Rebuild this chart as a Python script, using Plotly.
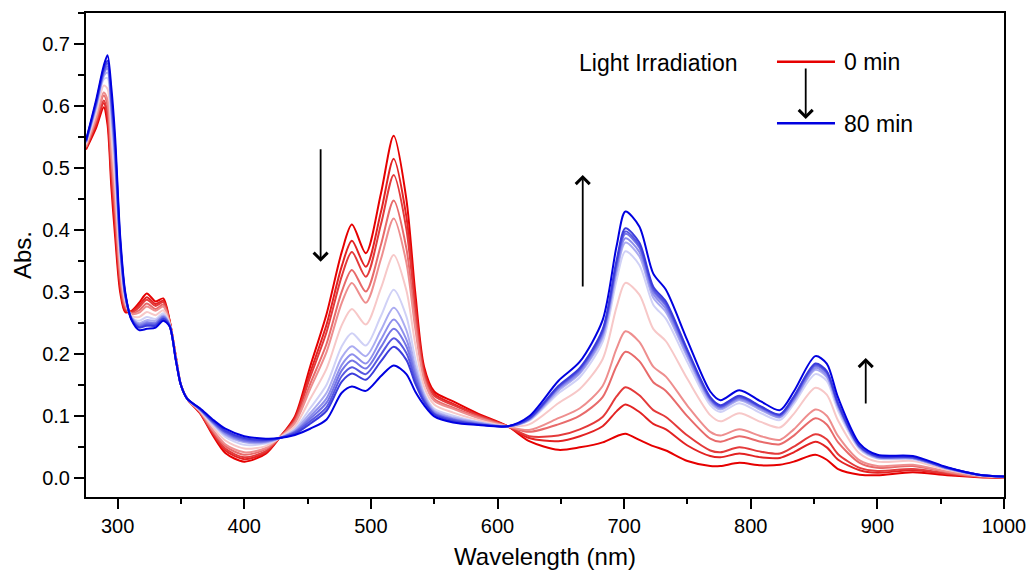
import plotly.graph_objects as go

# Wavelength grid (nm)
wavelength = [275, 283, 289, 292, 295, 298, 302, 306, 311, 317,
              323, 330, 336, 341, 346, 350, 355, 365, 375, 385,
              400, 417, 428, 440, 452, 465, 477, 485, 496, 508,
              518, 528, 535, 542, 550, 565, 585, 608, 625, 648,
              665, 683, 694, 701, 712, 723, 733, 750, 768, 776,
              791, 808, 823, 834, 851, 860, 869, 886, 900, 928,
              955, 980, 1000]

# Absorbance spectra, 0 min (red) -> 80 min (blue)
abs_00 = [.530, .565, .598, .570, .470, .390, .300, .268, .270, .283,
          .298, .285, .290, .255, .196, .150, .128, .105, .070, .041,
          .027, .040, .066, .100, .180, .265, .365, .409, .363, .460,
          .552, .450, .300, .180, .140, .124, .104, .084, .060, .046,
          .050, .058, .068, .072, .062, .052, .045, .028, .020, .020,
          .025, .021, .022, .027, .038, .030, .015, .006, .005, .010,
          .005, .002, .001]
abs_01 = [.532, .570, .605, .581, .486, .406, .309, .271, .269, .279,
          .292, .281, .286, .254, .195, .150, .128, .106, .073, .045,
          .031, .042, .066, .097, .170, .248, .342, .383, .341, .430,
          .515, .422, .284, .174, .136, .120, .102, .084, .065, .060,
          .068, .084, .108, .119, .107, .088, .079, .053, .036, .034,
          .040, .034, .033, .042, .059, .050, .030, .013, .009, .013,
          .007, .003, .001]
abs_02 = [.533, .573, .609, .589, .497, .417, .315, .273, .267, .276,
          .288, .278, .284, .253, .195, .150, .128, .106, .074, .048,
          .034, .044, .066, .095, .163, .236, .326, .365, .325, .410,
          .489, .402, .273, .169, .133, .118, .101, .084, .068, .069,
          .079, .099, .132, .147, .134, .110, .099, .069, .045, .042,
          .050, .043, .040, .051, .071, .063, .039, .017, .012, .015,
          .008, .003, .001]
abs_03 = [.534, .578, .617, .601, .515, .435, .325, .277, .266, .271,
          .282, .273, .280, .252, .194, .150, .128, .107, .077, .052,
          .038, .047, .066, .092, .152, .217, .301, .336, .301, .377,
          .448, .371, .255, .163, .128, .114, .099, .084, .075, .087,
          .101, .131, .181, .204, .189, .155, .141, .100, .064, .059,
          .068, .059, .055, .069, .097, .087, .058, .025, .017, .020,
          .010, .003, .002]
abs_04 = [.535, .581, .622, .610, .528, .448, .332, .280, .265, .267,
          .277, .270, .277, .251, .194, .150, .128, .108, .079, .055,
          .042, .049, .066, .089, .144, .204, .283, .315, .283, .354,
          .419, .348, .242, .158, .125, .112, .097, .084, .078, .097,
          .113, .149, .209, .237, .220, .180, .164, .117, .075, .069,
          .079, .068, .062, .079, .111, .101, .068, .029, .020, .022,
          .011, .004, .002]
abs_05 = [.538, .588, .633, .628, .553, .473, .347, .285, .262, .260,
          .268, .263, .271, .250, .193, .150, .128, .109, .083, .061,
          .048, .052, .066, .084, .128, .177, .247, .273, .248, .307,
          .360, .303, .217, .148, .119, .106, .094, .084, .087, .121,
          .144, .192, .276, .315, .296, .241, .221, .160, .102, .092,
          .105, .091, .082, .104, .146, .135, .093, .040, .027, .028,
          .014, .005, .002]
abs_06 = [.540, .595, .643, .645, .577, .497, .360, .289, .260, .254,
          .260, .257, .266, .248, .192, .150, .128, .110, .087, .067,
          .054, .056, .065, .080, .113, .151, .213, .234, .214, .262,
          .304, .261, .193, .138, .112, .101, .091, .084, .093, .137,
          .163, .220, .319, .366, .344, .280, .257, .187, .118, .107,
          .121, .105, .094, .120, .168, .157, .109, .047, .032, .031,
          .016, .005, .003]
abs_07 = [.541, .599, .648, .654, .590, .510, .368, .292, .259, .250,
          .255, .254, .263, .248, .192, .150, .128, .111, .089, .070,
          .058, .058, .065, .078, .105, .138, .195, .213, .197, .239,
          .275, .239, .180, .134, .109, .098, .090, .084, .094, .141,
          .169, .227, .331, .380, .358, .291, .268, .195, .123, .111,
          .126, .110, .098, .124, .175, .163, .114, .049, .033, .032,
          .016, .005, .003]
abs_08 = [.542, .601, .652, .660, .598, .518, .372, .294, .258, .248,
          .252, .251, .261, .247, .191, .150, .128, .111, .090, .072,
          .060, .059, .065, .076, .100, .129, .183, .200, .185, .224,
          .256, .224, .172, .130, .107, .096, .089, .084, .095, .144,
          .171, .231, .337, .387, .365, .297, .273, .199, .126, .113,
          .128, .112, .099, .126, .178, .166, .116, .050, .034, .033,
          .016, .006, .003]
abs_09 = [.543, .603, .654, .664, .604, .524, .376, .295, .257, .246,
          .250, .250, .260, .247, .191, .150, .128, .112, .091, .074,
          .061, .060, .065, .075, .096, .122, .174, .190, .177, .212,
          .241, .213, .166, .128, .105, .095, .088, .084, .096, .146,
          .174, .235, .343, .394, .372, .302, .278, .203, .128, .115,
          .130, .114, .101, .129, .181, .170, .119, .051, .035, .033,
          .017, .006, .003]
abs_10 = [.543, .605, .657, .669, .611, .531, .379, .296, .257, .244,
          .248, .248, .258, .246, .191, .150, .128, .112, .092, .075,
          .063, .061, .065, .074, .092, .115, .165, .179, .168, .200,
          .226, .202, .159, .125, .104, .094, .087, .084, .096, .147,
          .176, .237, .346, .398, .375, .305, .281, .205, .129, .116,
          .131, .115, .102, .130, .183, .171, .120, .052, .035, .034,
          .017, .006, .003]
abs_11 = [.544, .606, .660, .673, .617, .537, .383, .297, .256, .243,
          .246, .246, .257, .246, .190, .150, .128, .112, .093, .077,
          .065, .062, .065, .072, .088, .109, .156, .169, .159, .189,
          .212, .191, .153, .123, .103, .092, .087, .084, .097, .149,
          .178, .240, .351, .403, .380, .309, .285, .207, .131, .118,
          .133, .116, .103, .132, .185, .173, .121, .052, .036, .034,
          .017, .006, .003]
abs_12 = [.545, .610, .665, .682, .630, .550, .390, .300, .255, .239,
          .241, .243, .254, .245, .190, .150, .128, .113, .095, .080,
          .068, .064, .065, .070, .080, .095, .138, .148, .141, .165,
          .182, .168, .140, .118, .100, .090, .086, .084, .100, .157,
          .188, .255, .374, .430, .406, .330, .304, .222, .140, .126,
          .142, .124, .110, .140, .197, .185, .130, .056, .038, .036,
          .018, .006, .003]

spectra = [abs_00, abs_01, abs_02, abs_03, abs_04, abs_05, abs_06,
           abs_07, abs_08, abs_09, abs_10, abs_11, abs_12]

colors = ['#e60000', '#e32222', '#e43a3a', '#e86a6a', '#ee8e8e', '#f7c8c8',
          '#d0d1f6', '#abacf1', '#8e8fec', '#7475e6', '#5758e1', '#3b3cdc', '#0000e0']

FONT = "Liberation Sans, Arial, sans-serif"

fig = go.Figure()
for ys, c in zip(spectra, colors):
    fig.add_trace(go.Scatter(x=wavelength, y=ys, mode="lines",
                             line=dict(color=c, width=2, shape="spline", smoothing=0.8),
                             showlegend=False, hoverinfo="skip"))

axis_common = dict(showline=True, linecolor="black", linewidth=2, mirror=True,
                   ticks="outside", ticklen=10, tickwidth=1.5, tickcolor="black",
                   showgrid=False, zeroline=False,
                   tickfont=dict(family=FONT, size=20, color="black"))

fig.update_xaxes(range=[275, 1000], tick0=300, dtick=100,
                 minor=dict(ticks="outside", ticklen=5, tickwidth=1.5, tickcolor="black", dtick=50, tick0=300),
                 title=dict(text="Wavelength (nm)", font=dict(family=FONT, size=24, color="black"), standoff=12),
                 **axis_common)
fig.update_yaxes(range=[-0.03, 0.75], tick0=0, dtick=0.1, tickformat=".1f",
                 minor=dict(ticks="outside", ticklen=6, tickwidth=1.5, tickcolor="black", dtick=0.05, tick0=0),
                 title=dict(text="Abs.", font=dict(family=FONT, size=24, color="black"), standoff=4),
                 **axis_common)

arrow = dict(showarrow=True, arrowhead=4, arrowsize=1.5, arrowwidth=1.8, arrowcolor="black", text="")
annotations = [
    dict(x=460.3, y=0.349, xref="x", yref="y", ax=0, ay=-114, **arrow),
    dict(x=667.3, y=0.489, xref="x", yref="y", ax=0, ay=113, **arrow),
    dict(x=890.8, y=0.194, xref="x", yref="y", ax=0, ay=47, **arrow),
    dict(x=0.784, y=0.781, xref="paper", yref="paper", ax=0, ay=-52, **arrow),
    dict(x=0.535, y=0.8967, xref="paper", yref="paper", text="Light Irradiation", showarrow=False,
         xanchor="left", yanchor="middle", font=dict(family=FONT, size=23, color="black")),
    dict(x=0.8235, y=0.8988, xref="paper", yref="paper", text="0 min", showarrow=False,
         xanchor="left", yanchor="middle", font=dict(family=FONT, size=23, color="black")),
    dict(x=0.8235, y=0.7707, xref="paper", yref="paper", text="80 min", showarrow=False,
         xanchor="left", yanchor="middle", font=dict(family=FONT, size=23, color="black")),
]
shapes = [
    dict(type="line", xref="paper", yref="paper", x0=0.7527, x1=0.8159, y0=0.8994, y1=0.8994,
         line=dict(color="#e60000", width=2.5)),
    dict(type="line", xref="paper", yref="paper", x0=0.7527, x1=0.8159, y0=0.7721, y1=0.7721,
         line=dict(color="#0000e0", width=2.5)),
]

fig.update_layout(width=1032, height=576, margin=dict(l=86, r=28, t=13, b=79, autoexpand=False),
                  paper_bgcolor="white", plot_bgcolor="white",
                  annotations=annotations, shapes=shapes,
                  font=dict(family=FONT, color="black"))

fig.write_html("out.html")
